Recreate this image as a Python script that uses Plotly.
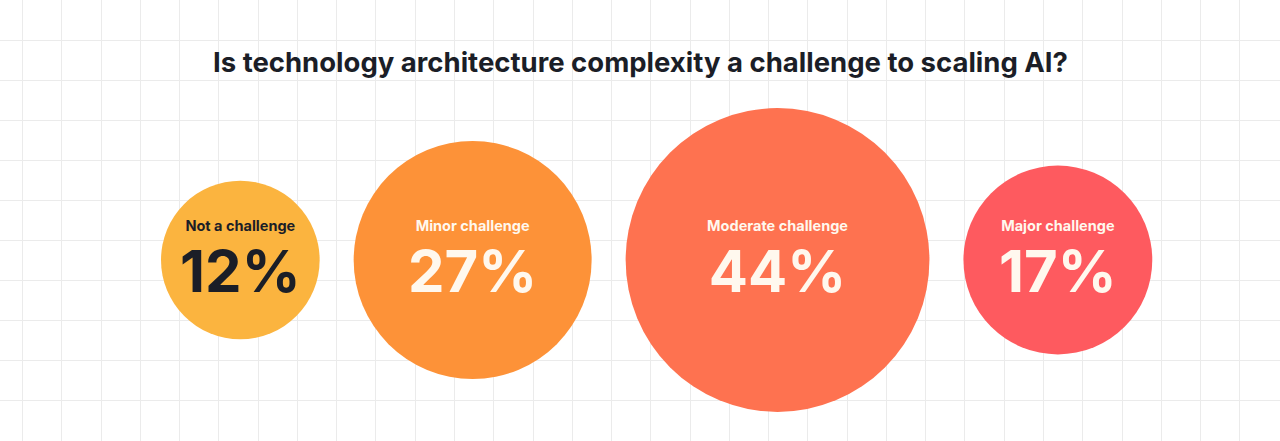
import numpy as np
import plotly.graph_objects as go

title = "Is technology architecture complexity a challenge to scaling AI?"
categories = ["Not a challenge", "Minor challenge", "Moderate challenge", "Major challenge"]
values = [12, 27, 44, 17]
colors = ["#FBB43F", "#FD9238", "#FE7250", "#FE5A5F"]
text_colors = ["#1B1E27", "#FFF8EE", "#FFF8EE", "#FFF8EE"]

# bubble area proportional to value, circles packed left to right with a fixed gap
px_per_unit = 22.9
gap = 34
start = 161
cy = 260

radii = px_per_unit * np.sqrt(values)
centers = []
x = start
for r in radii:
    centers.append(x + r)
    x += 2 * r + gap

fig = go.Figure()

fig.add_trace(go.Scatter(
    x=centers, y=[cy] * len(values),
    mode="markers",
    marker=dict(size=2 * radii, sizemode="diameter", color=colors, opacity=1, line=dict(width=0)),
    hoverinfo="skip", showlegend=False,
))

# category label above, percentage below
fig.add_trace(go.Scatter(
    x=centers, y=[cy - 33] * len(values),
    mode="text",
    text=["<b>" + c + "</b>" for c in categories],
    textfont=dict(family="Inter", size=14.5, color=text_colors),
    hoverinfo="skip", showlegend=False,
))
fig.add_trace(go.Scatter(
    x=centers, y=[cy + 17] * len(values),
    mode="text",
    text=["<b>" + str(v) + "%</b>" for v in values],
    textfont=dict(family="Inter", size=58, color=text_colors),
    hoverinfo="skip", showlegend=False,
))

fig.add_annotation(x=640, y=62, text="<b>" + title + "</b>", showarrow=False,
                   font=dict(family="Inter", size=27.5, color="#1B1E27"))

fig.update_xaxes(range=[0, 1280], showgrid=True, gridcolor="#EBEBEB", gridwidth=1,
                 tick0=22.5, dtick=39.27, showticklabels=False, zeroline=False, ticks="")
fig.update_yaxes(range=[441, 0], showgrid=True, gridcolor="#EBEBEB", gridwidth=1,
                 tick0=0, dtick=40, showticklabels=False, zeroline=False, ticks="")

fig.update_layout(
    width=1280, height=441,
    margin=dict(l=0, r=0, t=0, b=0),
    paper_bgcolor="white", plot_bgcolor="white",
)

# drop the default page margin so the figure sits flush in the window
fig.write_html("out.html", config={"displayModeBar": False},
               post_script="document.body.style.margin='0';")
